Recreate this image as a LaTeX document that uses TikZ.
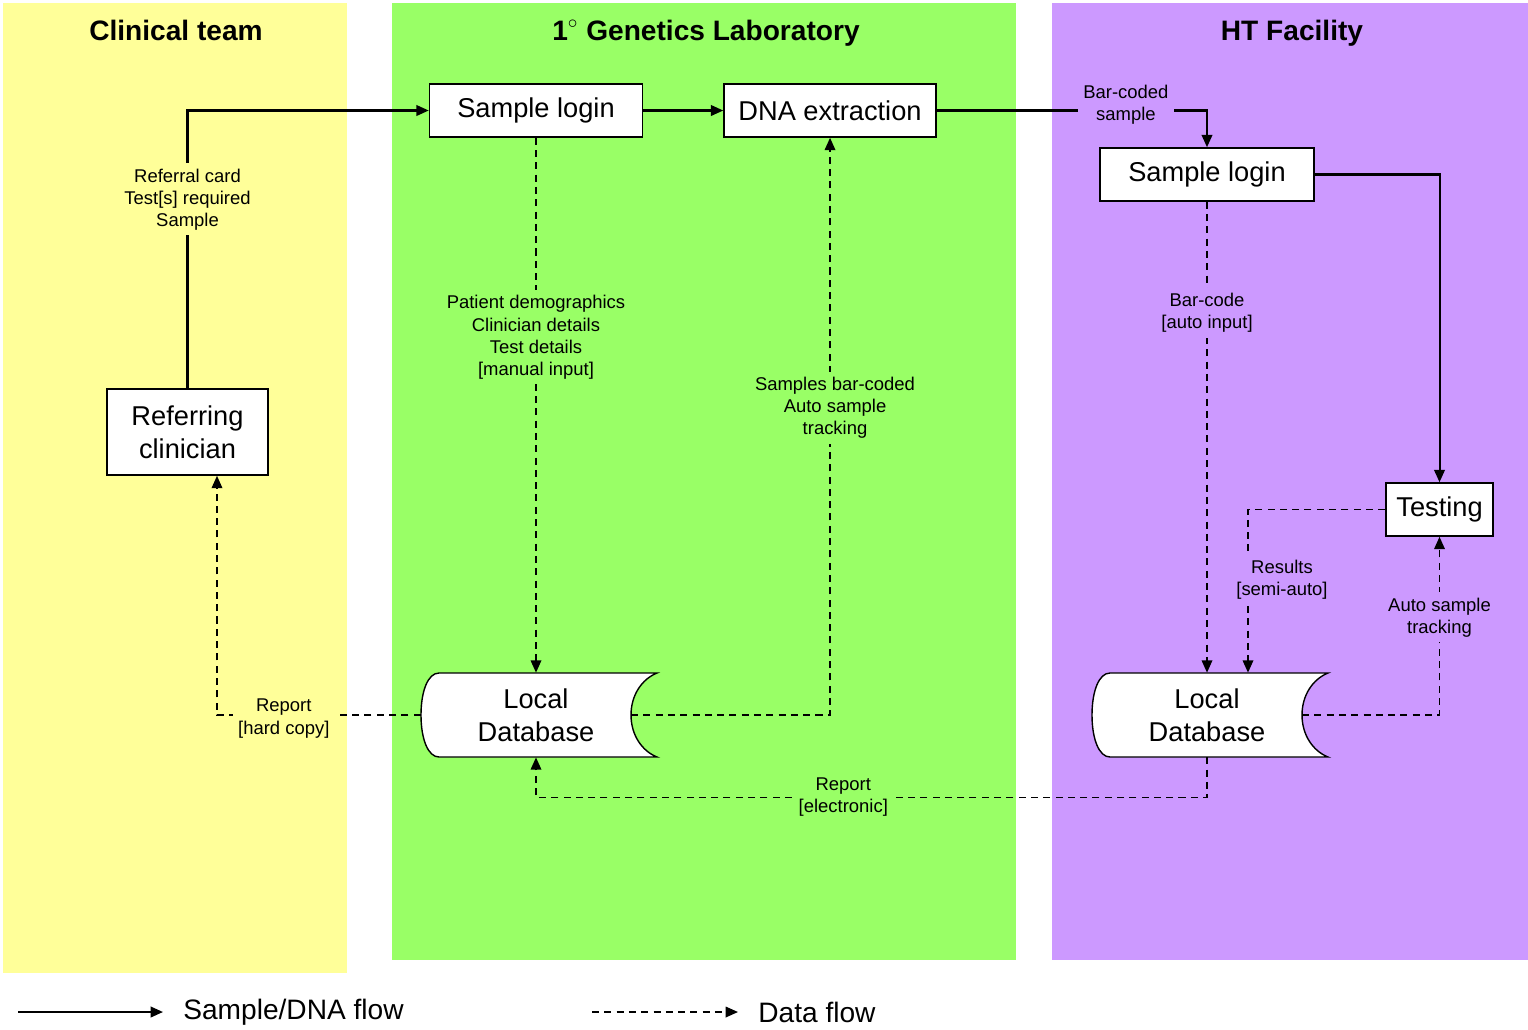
\documentclass[tikz,border=0pt]{standalone}
\usepackage{fontspec}
\setmainfont{Liberation Sans}
\usetikzlibrary{positioning, arrows.meta}

\definecolor{clinbg}{RGB}{255,255,153}
\definecolor{labbg}{RGB}{153,255,102}
\definecolor{htbg}{RGB}{204,153,255}

\begin{document}
\begin{tikzpicture}[
	x=0.02cm, y=-0.02cm,
	lanetitle/.style={anchor=base, font=\fontsize{16}{19}\selectfont\bfseries},
	procbox/.style={rectangle, draw=black, fill=white, line width=0.9pt, minimum height=1.06cm, align=center, font=\fontsize{15.5}{18.6}\selectfont},
	flowlbl/.style={align=center, inner sep=3pt, font=\fontsize{10.5}{12.6}\selectfont},
	legtext/.style={anchor=west, inner sep=0pt, font=\fontsize{16}{19}\selectfont},
	sflow/.style={-{Triangle[length=7pt,width=6pt]}, line width=1.15pt},
	dflow/.style={sflow, line width=0.95pt, dash pattern=on 4pt off 3pt},
	localdb/.pic={
		\draw[line width=0.8pt, fill=white] (-97,-42) .. controls (-108,-42) and (-115,-24) .. (-115,0)
			.. controls (-115,24) and (-108,42) .. (-97,42) -- (121,42)
			.. controls (106,36) and (95,20) .. (95,0)
			.. controls (95,-20) and (106,-36) .. (121,-42) -- cycle;
		\node[minimum width=4.6cm, minimum height=1.68cm, align=center, font=\fontsize{15.5}{18.6}\selectfont] (-box) {Local\\Database};
		\coordinate (-in) at (95,0);
	}
	]
	\path[use as bounding box, fill=white] (0,0) rectangle (1528,1029);
	
	% swim lanes
	\fill[clinbg] (3,3) rectangle (347,973);
	\fill[labbg] (392,3) rectangle (1016,960);
	\fill[htbg] (1052,3) rectangle (1528,960);
	\node[lanetitle] (clintitle) at (176,40) {Clinical team};
	\node[lanetitle] (labtitle) at (706,40) {1$^{\circ}$ Genetics Laboratory};
	\node[lanetitle] (httitle) at (1292,40) {HT Facility};
	
	% steps
	\node[procbox, minimum width=3.22cm, minimum height=1.72cm] (refc) at (187.5,432) {Referring\\clinician};
	\node[procbox, minimum width=4.26cm] (login1) at (536,110.5) {Sample login};
	\node[procbox, minimum width=4.24cm] (dnaext) [right=1.6cm of login1] {DNA extraction};
	\node[procbox, minimum width=4.28cm] (login2) at (1207,174.5) {Sample login};
	\node[procbox, minimum width=2.14cm] (testing) at (1439.5,509.5) {Testing};
	\pic (labdb) at (536,715) {localdb};
	\pic (htdb) at (1207,715) {localdb};
	
	% sample / DNA flow
	\draw[sflow] (refc.north) |- node[flowlbl, fill=clinbg, pos=0.34] (reflbl) {Referral card\\Test[s] required\\Sample} (login1.west);
	\draw[sflow] (login1) -- (dnaext);
	\draw[sflow] (dnaext.east) -| node[flowlbl, fill=htbg, pos=0.35, yshift=0.12cm] (bclbl) {Bar-coded\\sample} (login2.north);
	\draw[sflow] (login2.east) -| (testing.north);
	
	% data flow
	\draw[dflow] (login1.south) -- node[flowlbl, fill=labbg, pos=0.373] (pdlbl) {Patient demographics\\Clinician details\\Test details\\{}[manual input]} (labdb-box.north);
	\draw[dflow] (labdb-in) -| node[flowlbl, fill=labbg, pos=0.766, xshift=0.1cm] (sblbl) {Samples bar-coded\\Auto sample\\tracking} (dnaext.south);
	\draw[dflow] (labdb-box.west) -| node[flowlbl, fill=clinbg, pos=0.336, yshift=-0.07cm] (hclbl) {Report\\{}[hard copy]} ([xshift=0.59cm]refc.south);
	\draw[dflow] (login2.south) -- node[flowlbl, fill=htbg, pos=0.236] (bclbl2) {Bar-code\\{}[auto input]} (htdb-box.north);
	\draw[dflow] (testing.west) -| node[flowlbl, fill=htbg, pos=0.716, xshift=0.68cm] (reslbl) {Results\\{}[semi-auto]} ([xshift=0.82cm]htdb-box.north);
	\draw[dflow] (htdb-in) -| node[flowlbl, fill=htbg, pos=0.774] (atlbl) {Auto sample\\tracking} (testing.south);
	\draw[dflow] (htdb-box.south) -- ++(0,40) -| node[flowlbl, fill=labbg, pos=0.271] (erlbl) {Report\\{}[electronic]} (labdb-box.south);
	
	% legend
	\coordinate (sleg0) at (18,1012);
	\node[legtext] (sleg) at (183,1012) {Sample/DNA flow};
	\draw[sflow, shorten >=0.4cm] (sleg0) -- (sleg.west);
	\coordinate (dleg0) at (592,1012);
	\node[legtext] (dleg) at (758,1012) {Data flow};
	\draw[dflow, shorten >=0.4cm] (dleg0) -- (dleg.west);
\end{tikzpicture}
\end{document}
